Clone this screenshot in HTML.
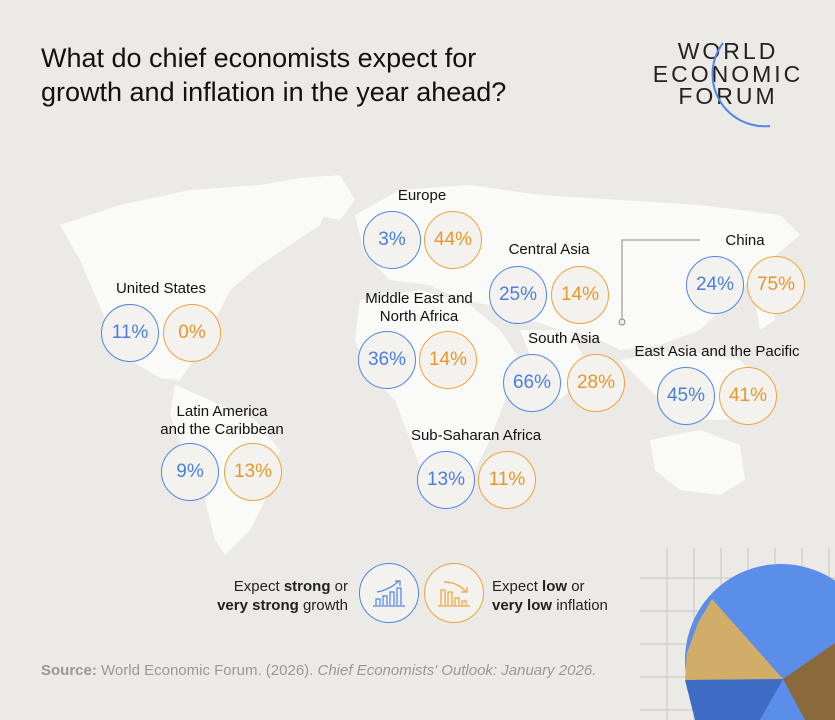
<!DOCTYPE html>
<html><head><meta charset="utf-8"><style>
body{margin:0;width:835px;height:720px;background:#eceae6;font-family:"Liberation Sans",sans-serif;position:relative;overflow:hidden}
.t{position:absolute;color:#111}
.c{position:absolute;width:58px;height:58px;border-radius:50%;box-sizing:border-box;background:#f3f2ef;font-size:19px;display:flex;align-items:center;justify-content:center}
.b{border:1.5px solid #4f86e8;color:#4a7ee0}
.o{border:1.5px solid #f0a23a;color:#e8962c}
.l{position:absolute;font-size:15px;color:#111;text-align:center;line-height:18px;transform:translateX(-50%);white-space:nowrap}
</style></head><body>
<svg width="835" height="720" style="position:absolute;left:0;top:0">
<g fill="#fafaf9">
<path d="M60 225 L120 205 L190 190 L260 185 L300 178 L330 200 L320 225 L290 245 L260 265 L230 290 L215 320 L200 350 L180 380 L160 378 L130 360 L110 330 L95 295 L80 260 Z"/>
<path d="M175 385 L210 400 L255 420 L280 450 L270 490 L250 530 L225 555 L215 540 L205 500 L185 455 L170 415 Z"/>
<path d="M300 178 L340 175 L355 200 L340 220 L315 215 Z"/>
<path d="M355 215 L400 190 L470 185 L540 195 L620 200 L700 205 L780 215 L800 235 L770 260 L730 300 L700 330 L660 345 L620 350 L590 335 L560 330 L530 320 L490 305 L460 300 L430 285 L390 280 L365 255 Z"/>
<path d="M360 300 L420 290 L470 305 L500 330 L520 360 L505 400 L490 440 L470 480 L445 500 L425 480 L410 440 L395 400 L370 375 L355 340 Z"/>
<path d="M520 330 L570 330 L590 370 L560 400 L540 380 Z"/>
<path d="M620 360 L680 350 L740 360 L770 390 L740 420 L700 420 L660 400 Z"/>
<path d="M650 440 L700 430 L740 445 L745 480 L720 495 L680 490 L655 470 Z"/>
<path d="M755 300 L770 290 L775 320 L760 330 Z"/>
</g>
</svg>
<div class="t" style="left:41px;top:41px;font-size:27px;line-height:34px;color:#111">What do chief economists expect for<br>growth and inflation in the year ahead?</div>
<div style="position:absolute;left:643px;top:40px;width:170px;text-align:center;font-size:23px;letter-spacing:3px;line-height:22.5px;color:#222">WORLD<br>ECONOMIC<br>FORUM</div>
<svg width="835" height="720" style="position:absolute;left:0;top:0;pointer-events:none">
<path d="M723 43 A52 52 0 0 0 770 126" fill="none" stroke="#4f86e8" stroke-width="2"/>
<polyline points="622,322 622,240 700,240" fill="none" stroke="#888" stroke-width="1"/>
<circle cx="622" cy="322" r="3" fill="#eee" stroke="#888"/>
</svg>
<div class="l" style="left:422px;top:187px">Europe</div>
<div class="c b" style="left:363px;top:211px">3%</div><div class="c o" style="left:424px;top:211px">44%</div>
<div class="l" style="left:549px;top:241px">Central Asia</div>
<div class="c b" style="left:489px;top:266px">25%</div><div class="c o" style="left:551px;top:266px">14%</div>
<div class="l" style="left:161px;top:280px">United States</div>
<div class="c b" style="left:101px;top:304px">11%</div><div class="c o" style="left:163px;top:304px">0%</div>
<div class="l" style="left:419px;top:290px">Middle East and<br>North Africa</div>
<div class="c b" style="left:358px;top:331px">36%</div><div class="c o" style="left:419px;top:331px">14%</div>
<div class="l" style="left:564px;top:330px">South Asia</div>
<div class="c b" style="left:503px;top:354px">66%</div><div class="c o" style="left:567px;top:354px">28%</div>
<div class="l" style="left:745px;top:232px">China</div>
<div class="c b" style="left:686px;top:256px">24%</div><div class="c o" style="left:747px;top:256px">75%</div>
<div class="l" style="left:717px;top:343px">East Asia and the Pacific</div>
<div class="c b" style="left:657px;top:367px">45%</div><div class="c o" style="left:719px;top:367px">41%</div>
<div class="l" style="left:222px;top:403px">Latin America<br>and the Caribbean</div>
<div class="c b" style="left:161px;top:443px">9%</div><div class="c o" style="left:224px;top:443px">13%</div>
<div class="l" style="left:476px;top:427px">Sub-Saharan Africa</div>
<div class="c b" style="left:417px;top:451px">13%</div><div class="c o" style="left:478px;top:451px">11%</div>
<div style="position:absolute;left:200px;top:577px;width:148px;text-align:right;font-size:15px;line-height:19px;color:#222">Expect <b>strong</b> or<br><b>very strong</b> growth</div>
<div class="c b" style="left:359px;top:563px;width:60px;height:60px"><svg width="36" height="30"><g stroke="#4f86e8" fill="none" stroke-width="1.2"><path d="M2 28H34M5 27V21H9V27M12 27V18H16V27M19 27V14H23V27M26 27V10H30V27M6 14Q18 12 28 3M24 3H29V8"/></g></svg></div>
<div class="c o" style="left:424px;top:563px;width:60px;height:60px"><svg width="36" height="30"><g stroke="#f0a23a" fill="none" stroke-width="1.2"><path d="M2 28H34M5 27V12H9V27M12 27V14H16V27M19 27V20H23V27M26 27V23H30V27M8 4Q22 4 30 14M25 14H31V9"/></g></svg></div>
<div style="position:absolute;left:492px;top:577px;font-size:15px;line-height:19px;color:#222">Expect <b>low</b> or<br><b>very low</b> inflation</div>
<div style="position:absolute;left:41px;top:662px;font-size:15px;color:#999"><b>Source:</b> World Economic Forum. (2026). <i>Chief Economists' Outlook: January 2026.</i></div>
<svg width="195" height="172" style="position:absolute;left:640px;top:548px">
<g stroke="#c9c7c2" stroke-width="1"><path d="M27 0V172M54 0V172M81 0V172M108 0V172M135 0V172M162 0V172M189 0V172M0 30H195M0 63H195M0 96H195M0 129H195M0 162H195"/></g>
<circle cx="141" cy="112" r="96" fill="#5b8ee8"/>
<path d="M143 131 L72 51 L58 75 L47 105 L45 132 Z" fill="#d2ad68"/>
<path d="M143 131 L195 95 L195 172 L165 172 Z" fill="#8a6a3a"/>
<path d="M143 131 L45 132 L55 172 L120 172 Z" fill="#3e6cc4"/>
</svg>
</body></html>
